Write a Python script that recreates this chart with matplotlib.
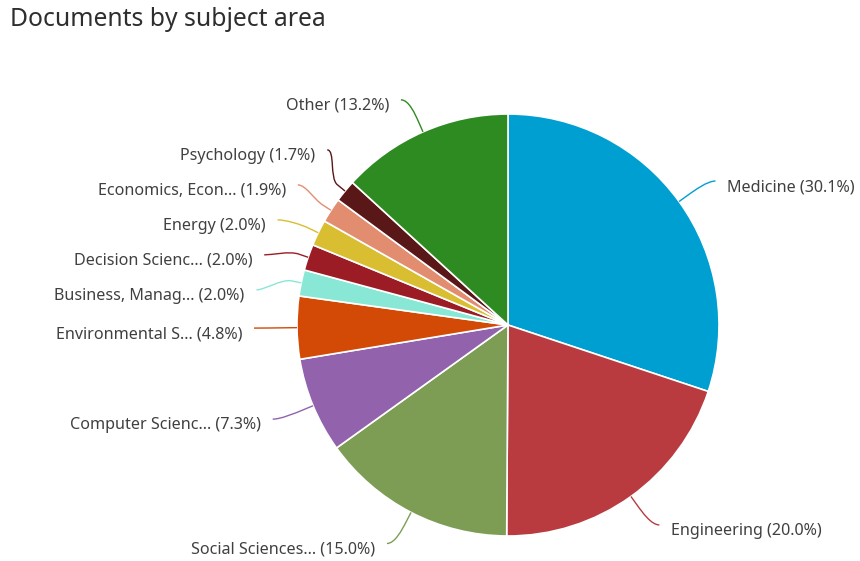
"""
Pie of documents by subject area, with outside labels and soft connectors.
Writes out.png.
"""
import numpy as np
import matplotlib
matplotlib.use("Agg")
import matplotlib.pyplot as plt
from matplotlib.path import Path
from matplotlib.patches import PathPatch

plt.rcParams["font.family"] = ["Noto Sans", "DejaVu Sans"]

SUBJECTS = ["Medicine", "Engineering", "Social Sciences…", "Computer Scienc…",
            "Environmental S…", "Business, Manag…", "Decision Scienc…", "Energy",
            "Economics, Econ…", "Psychology", "Other"]
SHARES = [30.1, 20.0, 15.0, 7.3, 4.8, 2.0, 2.0, 2.0, 1.9, 1.7, 13.2]
COLORS = ["#009fd1", "#b93b3f", "#7d9d55", "#9262ad", "#d24a06", "#88e8d5",
          "#9c1c26", "#d9be32", "#e28d70", "#5a1718", "#2e8b22"]

W, H = 860, 561
CX, CY = 508, H - 325      # pie centre in pixel units (y up)
R_PIE = 211
R_LAB = 246                # label ring
PAD = 20
GAP = 35                   # min vertical spacing between labels
TEXT_C = "#404040"


def spread(items):
    """items: list of [natural_y, idx]; returns {idx: y} with labels pushed apart."""
    items = sorted(items, key=lambda t: -t[0])
    clusters = [[it] for it in items]

    def place(cl):
        mid = np.mean([t[0] for t in cl])
        n = len(cl)
        return [mid + GAP * ((n - 1) / 2 - i) for i in range(n)]

    changed = True
    while changed:
        changed = False
        for i in range(len(clusters) - 1):
            a, b = place(clusters[i]), place(clusters[i + 1])
            if a[-1] - b[0] < GAP:
                clusters[i] = clusters[i] + clusters[i + 1]
                del clusters[i + 1]
                changed = True
                break
    out = {}
    for cl in clusters:
        for t, y in zip(cl, place(cl)):
            out[t[1]] = y
    return out


def main():
    fig = plt.figure(figsize=(W / 100, H / 100), dpi=100)
    ax = fig.add_axes([0, 0, 1, 1])
    ax.pie(SHARES, colors=COLORS, startangle=90, counterclock=False,
           radius=R_PIE, center=(CX, CY),
           wedgeprops=dict(edgecolor="white", linewidth=1.2))
    ax.set_xlim(0, W)
    ax.set_ylim(0, H)
    ax.set_aspect("equal")
    ax.axis("off")

    total = sum(SHARES)
    cum = np.cumsum([0] + SHARES[:-1])
    mids = np.radians(90 - 360 * (cum + np.array(SHARES) / 2) / total)

    right = [[CY + R_LAB * np.sin(a), i] for i, a in enumerate(mids) if np.cos(a) > 0]
    left = [[CY + R_LAB * np.sin(a), i] for i, a in enumerate(mids) if np.cos(a) <= 0]
    ys = {**spread(right), **spread(left)}

    for i, a in enumerate(mids):
        side = 1 if np.cos(a) > 0 else -1
        y = ys[i]
        dy = y - CY
        xc = CX + side * np.sqrt(max(R_LAB ** 2 - dy ** 2, 0))
        ax.text(xc + side * PAD, y - 6, f"{SUBJECTS[i]} ({SHARES[i]:.1f}%)",
                ha="left" if side > 0 else "right", va="center",
                fontsize=11.6, color=TEXT_C)

        # soft connector: label -> bend just outside the pie -> slice edge
        ex, ey = CX + R_PIE * np.cos(a), CY + R_PIE * np.sin(a)
        bx, by = CX + (R_PIE + 10) * np.cos(a), CY + (R_PIE + 10) * np.sin(a)
        sx = xc + side * 8
        verts = [(sx, y), (xc, y), (2 * bx - ex, 2 * by - ey), (bx, by), (ex, ey)]
        codes = [Path.MOVETO, Path.CURVE4, Path.CURVE4, Path.CURVE4, Path.LINETO]
        ax.add_patch(PathPatch(Path(verts, codes), fill=False,
                               edgecolor=COLORS[i], linewidth=1))

    fig.text(10 / W, 1 - 20 / H, "Documents by subject area", ha="left",
             va="center", fontsize=17.8, color="#2e2e2e")
    fig.savefig("out.png", dpi=100)


if __name__ == "__main__":
    main()
